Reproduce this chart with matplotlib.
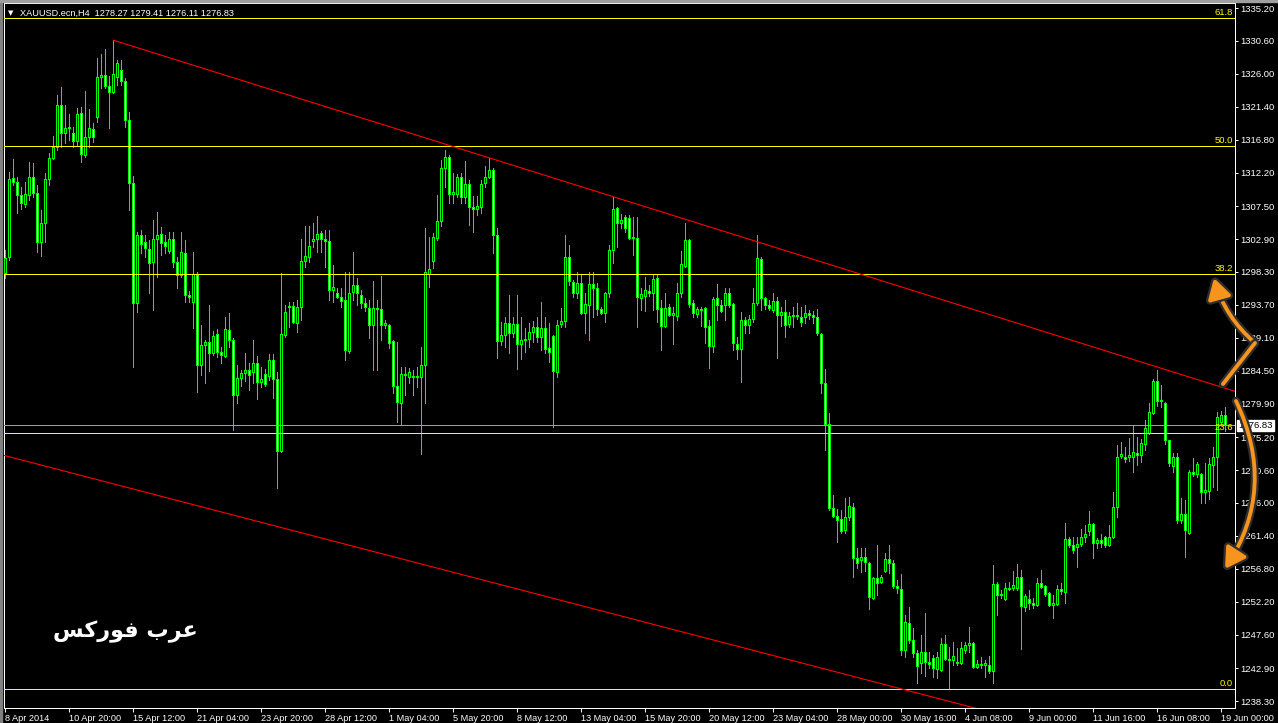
import matplotlib.pyplot as plt
import matplotlib.patheffects as pe
from matplotlib.patches import FancyArrowPatch, Rectangle
from matplotlib.lines import Line2D
import numpy as np

plt.rcParams['font.family'] = ['Liberation Sans', 'DejaVu Sans']

# XAUUSD H4 candles (8 Apr - 19 Jun 2014)
opens = [
    1298.2, 1300.4, 1311.4, 1310.9, 1309.1, 1307.8, 1309.1, 1311.6, 1309.3, 1302.5,
    1305.1, 1311.3, 1314.2, 1315.8, 1321.6, 1317.7, 1318.4, 1317.7, 1316.6, 1320.5,
    1314.6, 1317.2, 1318.3, 1320.0, 1325.6, 1325.8, 1324.3, 1323.5, 1325.6, 1326.5,
    1325.0, 1319.5, 1310.7, 1294.0, 1303.5, 1302.5, 1301.5, 1299.7, 1302.9, 1303.6,
    1302.5, 1301.2, 1302.9, 1299.7, 1297.9, 1300.9, 1295.1, 1294.1, 1297.9, 1285.3,
    1288.1, 1288.5, 1286.9, 1289.6, 1287.1, 1286.5, 1290.2, 1288.8, 1281.1, 1283.5,
    1284.2, 1284.6, 1284.3, 1285.6, 1282.9, 1284.0, 1283.7, 1286.0, 1283.3, 1273.3,
    1289.5, 1293.4, 1293.5, 1291.2, 1293.4, 1299.8, 1300.4, 1302.6, 1302.9, 1303.7,
    1302.9, 1302.6, 1295.8, 1295.3, 1294.8, 1294.4, 1287.2, 1295.5, 1296.5, 1295.1,
    1294.0, 1293.3, 1290.9, 1293.3, 1293.1, 1290.9, 1290.9, 1288.6, 1282.4, 1280.0,
    1284.0, 1283.6, 1283.7, 1283.6, 1283.6, 1285.3, 1298.0, 1299.8, 1303.0, 1305.4,
    1312.8, 1314.4, 1309.2, 1309.2, 1311.6, 1308.8, 1310.6, 1307.4, 1307.1, 1307.4,
    1310.7, 1311.6, 1312.5, 1303.5, 1288.6, 1289.5, 1291.2, 1289.8, 1291.0, 1288.2,
    1288.8, 1288.9, 1289.9, 1290.6, 1289.2, 1290.5, 1287.7, 1289.3, 1284.3, 1291.0,
    1291.4, 1300.4, 1296.9, 1295.3, 1296.7, 1292.6, 1293.7, 1296.6, 1296.0, 1293.1,
    1292.6, 1295.3, 1301.4, 1307.2, 1305.1, 1306.0, 1305.8, 1303.0, 1303.0, 1294.7,
    1294.9, 1295.6, 1295.3, 1297.4, 1293.3, 1290.7, 1293.4, 1292.3, 1292.1, 1295.3,
    1299.1, 1302.8, 1294.0, 1292.4, 1293.1, 1293.3, 1290.7, 1287.9, 1294.7, 1293.7,
    1293.7, 1295.3, 1293.8, 1288.2, 1287.5, 1291.6, 1290.9, 1291.7, 1294.0, 1300.1,
    1294.7, 1293.7, 1293.0, 1294.2, 1292.3, 1292.7, 1291.0, 1292.1, 1292.3, 1292.0,
    1292.0, 1292.6, 1292.3, 1292.0, 1289.6, 1282.8, 1277.0, 1265.3, 1264.2, 1263.8,
    1262.2, 1264.0, 1265.4, 1258.3, 1258.0, 1258.4, 1257.6, 1252.7, 1255.5, 1254.9,
    1256.5, 1258.2, 1257.6, 1254.4, 1253.9, 1245.4, 1249.2, 1246.8, 1245.0, 1243.6,
    1245.2, 1243.8, 1244.3, 1242.8, 1242.6, 1246.3, 1244.2, 1244.0, 1243.8, 1243.6,
    1245.4, 1246.1, 1246.4, 1243.1, 1243.5, 1243.3, 1243.3, 1242.5, 1254.7, 1253.1,
    1252.6, 1253.9, 1254.1, 1254.1, 1255.7, 1251.4, 1252.6, 1252.0, 1251.7, 1254.8,
    1254.4, 1253.4, 1251.7, 1251.9, 1253.9, 1253.6, 1261.0, 1260.1, 1259.8, 1260.3,
    1261.2, 1262.1, 1263.1, 1260.4, 1260.8, 1261.2, 1260.1, 1261.2, 1265.4, 1272.6,
    1272.4, 1272.4, 1272.4, 1273.0, 1272.7, 1274.2, 1275.8, 1278.6, 1283.1, 1280.3,
    1280.0, 1274.8, 1271.2, 1272.4, 1263.6, 1264.4, 1261.8, 1270.3, 1270.0, 1270.0,
    1267.5, 1267.7, 1271.3, 1272.4, 1277.3, 1278.27,
]
highs = [
    1301.4, 1312.3, 1314.1, 1311.6, 1310.2, 1310.9, 1313.7, 1313.5, 1310.4, 1306.9,
    1312.1, 1314.9, 1317.3, 1323.0, 1324.2, 1321.6, 1320.4, 1318.6, 1321.2, 1321.4,
    1323.6, 1321.1, 1319.1, 1328.2, 1328.8, 1329.5, 1325.7, 1330.7, 1327.9, 1327.9,
    1325.4, 1320.7, 1311.7, 1303.9, 1304.2, 1303.5, 1302.8, 1305.6, 1306.7, 1304.6,
    1303.5, 1303.9, 1303.9, 1300.4, 1303.9, 1302.8, 1295.6, 1301.1, 1298.3, 1290.9,
    1288.8, 1293.7, 1290.0, 1290.3, 1287.8, 1292.0, 1292.6, 1289.1, 1285.3, 1284.6,
    1286.9, 1285.6, 1288.8, 1286.5, 1285.0, 1284.7, 1286.8, 1286.8, 1284.3, 1298.2,
    1293.7, 1294.1, 1294.1, 1294.4, 1302.9, 1304.7, 1304.7, 1305.1, 1306.1, 1304.0,
    1304.2, 1304.2, 1299.3, 1296.0, 1296.0, 1298.3, 1298.3, 1301.1, 1297.4, 1295.8,
    1294.7, 1294.4, 1297.0, 1294.4, 1297.7, 1291.6, 1291.0, 1288.8, 1288.5, 1285.0,
    1285.0, 1284.9, 1284.6, 1285.0, 1287.8, 1304.4, 1303.2, 1303.7, 1309.1, 1313.9,
    1315.3, 1314.6, 1312.1, 1312.0, 1312.1, 1313.8, 1311.2, 1308.9, 1308.9, 1311.2,
    1313.1, 1314.2, 1312.8, 1304.4, 1291.3, 1292.0, 1295.1, 1292.0, 1295.1, 1292.0,
    1290.5, 1291.2, 1291.4, 1292.0, 1294.1, 1292.0, 1291.2, 1289.5, 1291.6, 1293.3,
    1303.5, 1302.1, 1297.2, 1298.3, 1297.9, 1295.3, 1298.3, 1298.3, 1296.7, 1293.4,
    1295.5, 1302.1, 1308.8, 1307.4, 1306.4, 1306.3, 1306.3, 1306.0, 1306.0, 1296.0,
    1297.6, 1296.5, 1298.0, 1297.9, 1294.4, 1295.3, 1293.8, 1293.4, 1296.7, 1301.2,
    1305.1, 1302.9, 1294.4, 1293.4, 1293.4, 1293.4, 1291.6, 1294.8, 1296.6, 1294.4,
    1296.0, 1296.0, 1294.0, 1289.2, 1292.7, 1292.0, 1292.3, 1296.0, 1303.5, 1300.4,
    1294.8, 1294.4, 1295.3, 1294.8, 1293.4, 1294.4, 1292.7, 1293.4, 1294.0, 1293.4,
    1293.7, 1293.0, 1292.8, 1293.1, 1289.8, 1284.7, 1278.6, 1267.1, 1265.2, 1265.0,
    1266.7, 1266.8, 1266.0, 1259.7, 1259.7, 1259.7, 1257.7, 1255.7, 1260.1, 1255.9,
    1259.0, 1260.1, 1258.0, 1255.2, 1256.1, 1250.3, 1251.4, 1248.5, 1245.4, 1247.5,
    1250.6, 1245.2, 1244.7, 1245.2, 1247.1, 1247.5, 1245.9, 1246.5, 1245.7, 1246.5,
    1246.5, 1248.7, 1246.5, 1244.0, 1244.5, 1244.0, 1244.6, 1257.3, 1254.9, 1253.8,
    1254.8, 1254.9, 1256.5, 1257.5, 1256.6, 1253.3, 1253.8, 1252.7, 1255.5, 1256.6,
    1254.5, 1253.6, 1253.1, 1254.5, 1254.8, 1263.2, 1261.2, 1261.2, 1261.2, 1262.4,
    1262.9, 1264.9, 1263.2, 1261.1, 1261.7, 1261.4, 1262.9, 1267.5, 1274.1, 1274.5,
    1273.8, 1275.1, 1276.9, 1275.2, 1275.0, 1277.6, 1280.0, 1283.3, 1284.6, 1282.5,
    1280.1, 1274.8, 1273.0, 1273.0, 1266.7, 1266.4, 1270.6, 1272.3, 1271.7, 1270.2,
    1271.6, 1272.3, 1273.8, 1278.7, 1278.9, 1279.41,
]
lows = [
    1297.4, 1300.0, 1310.4, 1306.5, 1307.1, 1307.4, 1308.4, 1308.8, 1301.1, 1300.5,
    1302.5, 1310.4, 1314.1, 1315.3, 1315.8, 1316.3, 1316.7, 1315.8, 1316.0, 1313.7,
    1314.4, 1315.8, 1316.5, 1319.3, 1324.0, 1324.0, 1318.4, 1323.3, 1324.4, 1324.4,
    1318.6, 1306.9, 1285.0, 1292.7, 1300.9, 1300.4, 1295.3, 1293.0, 1297.6, 1300.7,
    1300.9, 1300.9, 1299.0, 1296.0, 1297.6, 1294.1, 1294.1, 1290.5, 1281.5, 1283.9,
    1282.8, 1284.4, 1286.7, 1286.4, 1285.6, 1286.4, 1287.8, 1276.2, 1280.0, 1282.4,
    1283.1, 1281.8, 1282.8, 1280.5, 1282.2, 1282.4, 1283.2, 1280.7, 1268.1, 1273.1,
    1289.2, 1290.6, 1291.2, 1289.9, 1291.6, 1299.0, 1299.7, 1301.8, 1301.1, 1301.1,
    1299.0, 1294.4, 1294.1, 1294.7, 1293.4, 1286.0, 1286.9, 1294.4, 1293.7, 1293.3,
    1292.8, 1289.1, 1284.6, 1284.6, 1288.8, 1290.5, 1287.7, 1281.4, 1277.3, 1276.9,
    1281.1, 1282.8, 1281.1, 1282.2, 1272.8, 1280.0, 1296.2, 1298.8, 1302.8, 1304.7,
    1310.2, 1307.9, 1307.9, 1308.8, 1307.9, 1307.9, 1304.9, 1303.9, 1306.3, 1306.5,
    1310.2, 1311.4, 1300.9, 1286.3, 1288.1, 1287.8, 1286.9, 1289.2, 1284.7, 1286.1,
    1287.1, 1287.8, 1288.5, 1288.5, 1287.4, 1286.9, 1285.7, 1276.6, 1283.6, 1290.6,
    1290.6, 1296.5, 1294.8, 1294.7, 1292.4, 1289.8, 1288.8, 1292.0, 1292.3, 1292.4,
    1291.3, 1294.8, 1299.5, 1301.8, 1304.4, 1303.9, 1302.9, 1300.7, 1290.6, 1293.0,
    1292.8, 1294.9, 1293.0, 1291.3, 1287.4, 1290.6, 1292.1, 1288.2, 1291.6, 1294.8,
    1299.0, 1293.4, 1292.0, 1292.0, 1290.7, 1288.4, 1284.9, 1287.1, 1291.6, 1292.7,
    1291.6, 1293.4, 1287.4, 1286.1, 1282.9, 1289.8, 1289.8, 1291.3, 1293.7, 1293.0,
    1293.1, 1293.0, 1292.7, 1286.3, 1290.7, 1289.2, 1290.6, 1290.6, 1291.7, 1290.7,
    1291.2, 1291.7, 1291.2, 1289.5, 1281.4, 1273.4, 1265.0, 1264.0, 1260.5, 1261.8,
    1261.8, 1263.6, 1255.7, 1256.9, 1256.3, 1256.5, 1251.2, 1252.6, 1253.1, 1254.8,
    1256.3, 1256.2, 1254.1, 1253.4, 1244.7, 1244.5, 1246.4, 1244.5, 1240.8, 1242.2,
    1241.8, 1242.9, 1241.7, 1241.5, 1242.5, 1244.0, 1240.1, 1243.3, 1243.3, 1243.5,
    1245.0, 1245.2, 1242.9, 1242.9, 1242.9, 1241.7, 1242.2, 1240.8, 1250.3, 1252.7,
    1252.4, 1253.8, 1253.8, 1253.8, 1245.6, 1250.9, 1251.2, 1251.3, 1251.6, 1254.1,
    1253.0, 1251.6, 1249.9, 1251.7, 1253.3, 1252.0, 1259.8, 1259.0, 1257.0, 1260.0,
    1260.5, 1261.5, 1258.3, 1259.7, 1259.8, 1259.8, 1260.0, 1261.1, 1264.0, 1272.3,
    1271.7, 1271.9, 1270.3, 1271.3, 1271.7, 1273.4, 1275.6, 1278.4, 1279.6, 1279.4,
    1274.2, 1271.2, 1270.3, 1263.2, 1263.2, 1258.4, 1261.7, 1269.8, 1269.6, 1266.0,
    1266.0, 1266.6, 1268.2, 1267.8, 1277.0, 1276.11,
]
closes = [
    1300.2, 1311.3, 1310.9, 1309.1, 1307.9, 1309.2, 1311.6, 1309.3, 1302.5, 1305.1,
    1311.3, 1314.2, 1315.8, 1321.6, 1317.7, 1318.4, 1318.6, 1316.6, 1320.4, 1314.8,
    1317.2, 1318.4, 1317.2, 1325.6, 1325.8, 1324.3, 1323.5, 1326.0, 1327.5, 1325.0,
    1319.5, 1310.7, 1294.0, 1303.5, 1302.2, 1301.6, 1299.5, 1302.9, 1303.5, 1302.3,
    1301.9, 1302.9, 1299.7, 1297.9, 1301.1, 1295.1, 1294.8, 1298.0, 1285.3, 1288.1,
    1288.5, 1286.9, 1289.3, 1287.1, 1286.7, 1290.3, 1288.8, 1281.1, 1283.5, 1284.2,
    1284.6, 1283.9, 1285.6, 1282.9, 1283.3, 1282.6, 1286.0, 1283.3, 1273.3, 1289.6,
    1292.7, 1293.5, 1291.3, 1293.4, 1299.8, 1300.5, 1301.9, 1302.9, 1303.6, 1302.9,
    1302.6, 1295.8, 1296.2, 1294.8, 1294.2, 1287.4, 1295.3, 1296.5, 1295.3, 1294.0,
    1293.4, 1290.9, 1293.3, 1293.1, 1290.9, 1291.2, 1288.4, 1282.4, 1280.1, 1284.0,
    1283.9, 1284.3, 1283.6, 1283.7, 1285.3, 1298.3, 1298.7, 1303.2, 1305.4, 1312.8,
    1314.4, 1309.2, 1309.5, 1311.6, 1308.8, 1310.6, 1307.4, 1307.1, 1307.5, 1310.6,
    1311.6, 1312.5, 1303.5, 1288.6, 1289.5, 1291.2, 1289.8, 1291.0, 1288.2, 1288.8,
    1288.9, 1289.9, 1290.6, 1289.2, 1290.5, 1287.5, 1287.1, 1284.4, 1290.9, 1291.4,
    1300.4, 1297.0, 1295.3, 1296.7, 1292.6, 1293.8, 1296.6, 1296.0, 1293.1, 1292.6,
    1295.3, 1301.4, 1307.1, 1305.1, 1305.6, 1304.4, 1303.0, 1303.2, 1294.8, 1295.2,
    1295.8, 1295.3, 1297.3, 1293.1, 1290.7, 1293.3, 1292.3, 1292.6, 1295.3, 1299.4,
    1302.8, 1293.8, 1292.6, 1293.1, 1293.0, 1290.6, 1287.9, 1294.5, 1293.7, 1292.8,
    1295.3, 1293.7, 1288.4, 1287.5, 1291.6, 1290.9, 1291.7, 1294.0, 1300.2, 1294.7,
    1293.7, 1293.3, 1294.2, 1292.3, 1292.7, 1290.9, 1292.1, 1292.3, 1292.1, 1291.3,
    1292.6, 1292.3, 1292.0, 1289.8, 1282.8, 1277.0, 1265.3, 1264.2, 1263.6, 1262.1,
    1264.0, 1265.6, 1258.3, 1257.6, 1258.4, 1257.7, 1252.8, 1255.5, 1254.8, 1255.7,
    1258.2, 1257.6, 1254.4, 1254.1, 1245.4, 1249.4, 1246.8, 1245.0, 1243.2, 1245.2,
    1243.8, 1243.5, 1242.9, 1244.5, 1246.3, 1244.2, 1244.0, 1244.6, 1243.6, 1245.7,
    1246.1, 1246.4, 1243.1, 1243.5, 1243.3, 1243.6, 1242.5, 1254.7, 1253.1, 1253.3,
    1254.1, 1254.1, 1254.5, 1255.7, 1251.6, 1253.0, 1252.0, 1251.7, 1254.8, 1254.2,
    1253.3, 1251.7, 1252.0, 1253.9, 1253.7, 1261.0, 1260.1, 1259.4, 1260.3, 1261.2,
    1261.7, 1263.1, 1260.4, 1260.8, 1260.4, 1260.1, 1261.2, 1265.4, 1272.4, 1272.8,
    1272.1, 1272.7, 1273.1, 1272.7, 1274.4, 1276.5, 1278.7, 1283.1, 1280.3, 1280.4,
    1274.8, 1271.6, 1272.4, 1263.6, 1264.4, 1262.2, 1270.3, 1270.0, 1271.4, 1267.5,
    1267.8, 1271.4, 1272.4, 1278.0, 1278.3, 1276.83,
]

# price scale and time scale labels
price_ticks = [1335.20, 1330.60, 1326.00, 1321.40, 1316.80, 1312.20, 1307.50, 1302.90,
               1298.30, 1293.70, 1289.10, 1284.50, 1279.90, 1275.20, 1270.60, 1266.00,
               1261.40, 1256.80, 1252.20, 1247.60, 1242.90, 1238.30]
date_labels = ['8 Apr 2014', '10 Apr 20:00', '15 Apr 12:00', '21 Apr 04:00', '23 Apr 20:00',
               '28 Apr 12:00', '1 May 04:00', '5 May 20:00', '8 May 12:00', '13 May 04:00',
               '15 May 20:00', '20 May 12:00', '23 May 04:00', '28 May 00:00', '30 May 16:00',
               '4 Jun 08:00', '9 Jun 00:00', '11 Jun 16:00', '16 Jun 08:00', '19 Jun 00:00']
date_step = 16

# objects drawn on the chart
fib_low, fib_high = 1240.0, 1391.8
fib_levels = [0.0, 23.6, 38.2, 50.0, 61.8]
bid_price = 1276.83
upper_trend = [(27, 1330.7), (288, 1285.0)]
lower_trend = [(0, 1272.6), (224, 1240.0)]
header = 'XAUUSD.ecn,H4  1278.27 1279.41 1276.11 1276.83'
# عرب فوركس, written in shaped presentation forms (visual order) so it joins correctly
arabic_label = '\uFEB2\uFEDB\uFEAD\uFEEE\uFED3 \uFE8F\uFEAE\uFECB'

W, H = 1278, 723


def fx(px):
    return px / W


def fy(py):
    return 1 - py / H


fig = plt.figure(figsize=(W / 100, H / 100), dpi=100, facecolor='black')
ax = fig.add_axes([fx(4), fy(708), fx(1235) - fx(4), fy(3) - fy(708)])
ax.set_facecolor('black')
ax.set_xlim(-0.33, 307.4)
ax.set_ylim(1237.33, 1335.90)

o = np.array(opens)
hi = np.array(highs)
lo = np.array(lows)
c = np.array(closes)
x = np.arange(len(c))
bull = c >= o

# candles: lime wicks, black body for bull, white body for bear
ax.vlines(x, lo, hi, colors='#00ff00', linewidth=0.72, antialiased=False, zorder=2)
ax.bar(x, np.abs(c - o), width=0.5, bottom=np.minimum(o, c),
       color=['black' if b else 'white' for b in bull],
       edgecolor='#00ff00', linewidth=0.72, antialiased=False, zorder=3)

# fibonacci levels
ytr = ax.get_yaxis_transform()
for lv in fib_levels:
    price = fib_low + (fib_high - fib_low) * lv / 100
    ax.axhline(price, color='#ffff00', lw=0.72, zorder=4)
    ax.text(0.9984, price + 0.15, f'{lv:.1f}', transform=ytr, ha='right', va='bottom',
            color='#ffff00', fontsize=6.8, zorder=5)

# bid line and price box
ax.axhline(bid_price, color='#a0a0a0', lw=0.72, zorder=4)
ax.text(1.0025, bid_price, f'{bid_price:.2f}', transform=ytr, ha='left', va='center',
        fontsize=6.8, color='black', clip_on=False, zorder=6,
        bbox=dict(boxstyle='square,pad=0.15', fc='white', ec='white'))

# trend lines
(ux0, uy0), (ux1, uy1) = upper_trend
su = (uy1 - uy0) / (ux1 - ux0)
ax.plot([ux0, 330], [uy0, uy0 + su * (330 - ux0)], color='#ff0000', lw=0.8, zorder=4)
(lx0, ly0), (lx1, ly1) = lower_trend
sl = (ly1 - ly0) / (lx1 - lx0)
ax.plot([-10, 300], [ly0 + sl * (-10 - lx0), ly0 + sl * (300 - lx0)], color='#ff0000',
        lw=0.8, zorder=4)

# axes look
for s in ax.spines.values():
    s.set_color('white')
    s.set_linewidth(0.72)
ax.yaxis.tick_right()
ax.set_yticks(price_ticks)
ax.set_yticklabels([f'{p:.2f}' for p in price_ticks])
ax.tick_params(axis='y', colors='white', length=2.5, width=0.72, pad=1.5, labelsize=6.8)
ax.set_xticks(range(0, date_step * len(date_labels), date_step))
ax.set_xticklabels(date_labels, ha='left')
ax.tick_params(axis='x', colors='white', length=3, width=0.72, pad=1.5, labelsize=6.6)

# window border
fig.patches.append(Rectangle((0, 0), fx(2), 1, transform=fig.transFigure, color='#808080'))
fig.patches.append(Rectangle((0, fy(1.5)), 1, fy(0) - fy(1.5), transform=fig.transFigure,
                             color='#a0a0a0'))

# header
fig.text(fx(8), fy(13), '\u25BC', color='white', fontsize=5, va='center', ha='left',
         family=['DejaVu Sans'])
fig.text(fx(20), fy(13), header, color='white', fontsize=6.6, va='center', ha='left')

# watermark
fig.text(fx(125), fy(632), arabic_label, color='white', fontsize=16, fontweight='bold',
         ha='center', va='center', family=['DejaVu Sans'])

# hand drawn orange arrows
orange = '#f7941d'
glow = [pe.withStroke(linewidth=6, foreground='#2e2e2e')]
seg = Line2D([fx(1223), fx(1255)], [fy(384), fy(343)], transform=fig.transFigure,
             color=orange, lw=2.8, solid_capstyle='round', path_effects=glow)
fig.add_artist(seg)
a1 = FancyArrowPatch((fx(1255), fy(343)), (fx(1214), fy(278)), transform=fig.transFigure,
                     connectionstyle='arc3,rad=-0.15',
                     arrowstyle='-|>,head_length=0.55,head_width=0.32', mutation_scale=22,
                     color=orange, lw=2.8, shrinkA=0, shrinkB=0, path_effects=glow)
fig.add_artist(a1)
a2 = FancyArrowPatch((fx(1236), fy(401)), (fx(1225), fy(569)), transform=fig.transFigure,
                     connectionstyle='arc3,rad=-0.28',
                     arrowstyle='-|>,head_length=0.55,head_width=0.32', mutation_scale=22,
                     color=orange, lw=2.8, shrinkA=0, shrinkB=0, path_effects=glow)
fig.add_artist(a2)

fig.savefig('out.png', dpi=100, facecolor='black')
